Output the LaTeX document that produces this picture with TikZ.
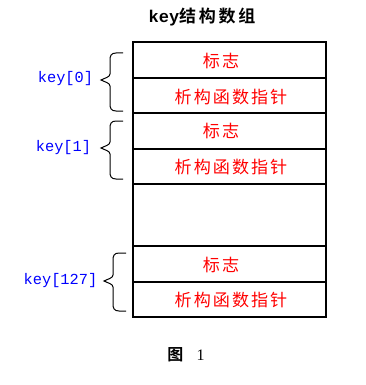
\documentclass[tikz,border=0pt]{standalone}
\usepackage{fontspec}
\setmainfont{Liberation Serif}
\setmonofont{Liberation Mono}
\newfontfamily\cjk[LetterSpace=12]{Noto Sans CJK SC}
\newfontfamily\cjkb[LetterSpace=16]{Noto Sans CJK SC Bold}
\usetikzlibrary{fit}
\begin{document}
\begin{tikzpicture}[x=0.75pt,y=-0.75pt,
  cell/.style={draw=black, line width=0.9pt, inner sep=0pt},
  celltext/.style={text=red, font=\cjk\fontsize{12.8pt}{14pt}\selectfont, inner sep=0pt},
  keylabel/.style={text=blue, font=\ttfamily\fontsize{11.5pt}{13pt}\selectfont, inner sep=0pt},
  brace/.style={draw=black, line width=0.75pt}]
\useasboundingbox (0,0) rectangle (366,385);
% title
\node[inner sep=0pt, font=\fontsize{12.75pt}{14pt}\selectfont] (title) at (202,17) {{\ttfamily\bfseries key}{\cjkb 结构数组}};
% cells
\coordinate (a0) at (133,42); \coordinate (a1) at (326,78);
\coordinate (b0) at (133,78); \coordinate (b1) at (326,113);
\coordinate (c0) at (133,113); \coordinate (c1) at (326,149);
\coordinate (d0) at (133,149); \coordinate (d1) at (326,184);
\coordinate (e0) at (133,184); \coordinate (e1) at (326,246);
\coordinate (f0) at (133,246); \coordinate (f1) at (326,282);
\coordinate (g0) at (133,282); \coordinate (g1) at (326,317);
\node[cell, fit=(a0)(a1)] (k0flag) {};
\node[cell, fit=(b0)(b1)] (k0dtor) {};
\node[cell, fit=(c0)(c1)] (k1flag) {};
\node[cell, fit=(d0)(d1)] (k1dtor) {};
\node[cell, fit=(e0)(e1)] (gap) {};
\node[cell, fit=(f0)(f1)] (k127flag) {};
\node[cell, fit=(g0)(g1)] (k127dtor) {};
% texts
\node[celltext] (t1) at (221,61) {标志};
\node[celltext] (t2) at (231,97) {析构函数指针};
\node[celltext] (t3) at (221,131) {标志};
\node[celltext] (t4) at (231,167) {析构函数指针};
\node[celltext] (t5) at (221,265) {标志};
\node[celltext] (t6) at (231,300) {析构函数指针};
% labels
\node[keylabel] (l0) at (65.5,79) {key[0]};
\node[keylabel] (l1) at (63.5,148) {key[1]};
\node[keylabel] (l127) at (60.5,281) {key[127]};
% braces
\draw[brace] (123,53) -- (116,53) .. controls (111,53) and (110,56) .. (110,60) -- (110,74) .. controls (110,77) and (105,78) .. (101,80) .. controls (105,82) and (110,83) .. (110,86) -- (110,104) .. controls (110,108) and (111,111) .. (116,111) -- (123,111);
\draw[brace] (123,121) -- (116,121) .. controls (111,121) and (110,124) .. (110,128) -- (110,142) .. controls (110,145) and (105,146) .. (101,148) .. controls (105,150) and (110,151) .. (110,154) -- (110,172) .. controls (110,176) and (111,179) .. (116,179) -- (123,179);
\draw[brace] (126,253) -- (119,253) .. controls (114,253) and (113,256) .. (113,260) -- (113,275) .. controls (113,278) and (108,279) .. (104,281) .. controls (108,283) and (113,284) .. (113,287) -- (113,304) .. controls (113,308) and (114,311) .. (119,311) -- (126,311);
% caption
\node[inner sep=0pt, font=\fontsize{12pt}{14pt}\selectfont] (cap) at (186,355) {{\cjkb 图}\hspace{10pt}1};
\end{tikzpicture}
\end{document}
